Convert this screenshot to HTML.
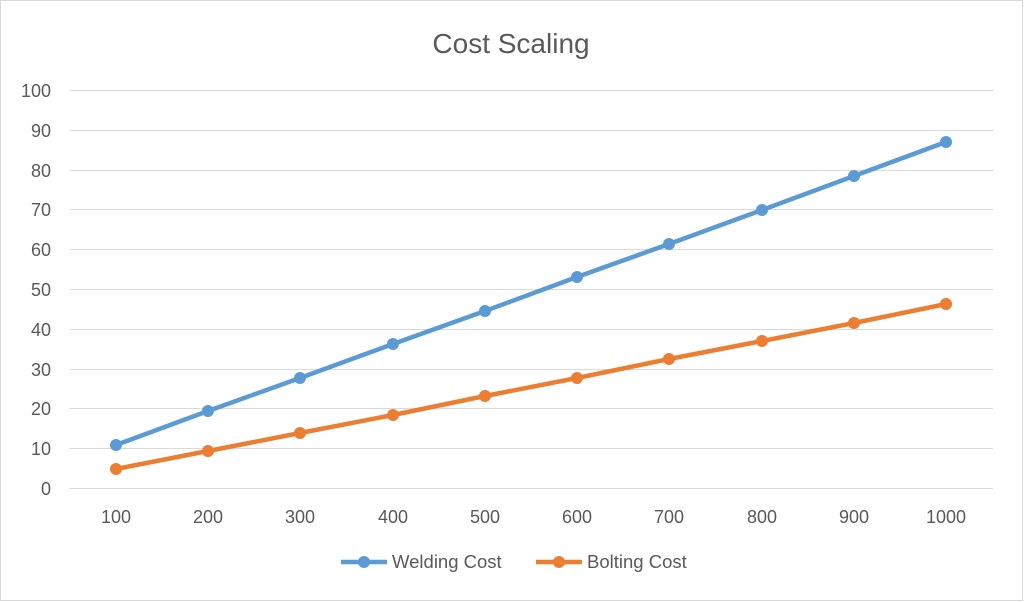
<!DOCTYPE html>
<html><head><meta charset="utf-8"><style>
html,body{margin:0;padding:0;background:#fff;}
svg{display:block;font-family:"Liberation Sans",Calibri,sans-serif;}
</style></head><body>
<svg width="1024" height="602" viewBox="0 0 1024 602">
<rect x="0.5" y="0.5" width="1022" height="600" fill="#fff" stroke="#d9d9d9"/>
<text x="511" y="53" text-anchor="middle" font-size="28" fill="#595959">Cost Scaling</text>
<g stroke="#d9d9d9" stroke-width="1">
<line x1="70" x2="993" y1="90.5" y2="90.5"/>
<line x1="70" x2="993" y1="130.5" y2="130.5"/>
<line x1="70" x2="993" y1="170.5" y2="170.5"/>
<line x1="70" x2="993" y1="209.5" y2="209.5"/>
<line x1="70" x2="993" y1="249.5" y2="249.5"/>
<line x1="70" x2="993" y1="289.5" y2="289.5"/>
<line x1="70" x2="993" y1="329.5" y2="329.5"/>
<line x1="70" x2="993" y1="369.5" y2="369.5"/>
<line x1="70" x2="993" y1="408.5" y2="408.5"/>
<line x1="70" x2="993" y1="448.5" y2="448.5"/>
<line x1="70" x2="993" y1="488.5" y2="488.5"/>
</g>
<g font-size="18" fill="#595959" text-anchor="end">
<text x="51" y="97">100</text><text x="51" y="137">90</text><text x="51" y="177">80</text>
<text x="51" y="216">70</text><text x="51" y="256">60</text><text x="51" y="296">50</text>
<text x="51" y="336">40</text><text x="51" y="376">30</text><text x="51" y="415">20</text>
<text x="51" y="455">10</text><text x="51" y="495">0</text>
</g>
<g font-size="18" fill="#595959" text-anchor="middle">
<text x="116" y="523">100</text><text x="208" y="523">200</text><text x="300" y="523">300</text>
<text x="393" y="523">400</text><text x="485" y="523">500</text><text x="577" y="523">600</text>
<text x="669" y="523">700</text><text x="762" y="523">800</text><text x="854" y="523">900</text>
<text x="946" y="523">1000</text>
</g>
<polyline fill="none" stroke="#5b9bd5" stroke-width="4.5" stroke-linejoin="round" points="116,445 208,411 300,378 393,344 485,311 577,277 669,244 762,210 854,176 946,142"/>
<g fill="#5b9bd5">
<circle cx="116" cy="445" r="6"/><circle cx="208" cy="411" r="6"/><circle cx="300" cy="378" r="6"/><circle cx="393" cy="344" r="6"/><circle cx="485" cy="311" r="6"/><circle cx="577" cy="277" r="6"/><circle cx="669" cy="244" r="6"/><circle cx="762" cy="210" r="6"/><circle cx="854" cy="176" r="6"/><circle cx="946" cy="142" r="6"/>
</g>
<polyline fill="none" stroke="#ed7d31" stroke-width="4.5" stroke-linejoin="round" points="116,469 208,451 300,433 393,415 485,396 577,378 669,359 762,341 854,323 946,304"/>
<g fill="#ed7d31">
<circle cx="116" cy="469" r="6"/><circle cx="208" cy="451" r="6"/><circle cx="300" cy="433" r="6"/><circle cx="393" cy="415" r="6"/><circle cx="485" cy="396" r="6"/><circle cx="577" cy="378" r="6"/><circle cx="669" cy="359" r="6"/><circle cx="762" cy="341" r="6"/><circle cx="854" cy="323" r="6"/><circle cx="946" cy="304" r="6"/>
</g>
<line x1="341" x2="387" y1="562" y2="562" stroke="#5b9bd5" stroke-width="4.5"/>
<circle cx="364" cy="562" r="6" fill="#5b9bd5"/>
<text x="392" y="568" font-size="18.5" fill="#595959">Welding Cost</text>
<line x1="536" x2="582" y1="562" y2="562" stroke="#ed7d31" stroke-width="4.5"/>
<circle cx="559" cy="562" r="6" fill="#ed7d31"/>
<text x="587" y="568" font-size="18.5" fill="#595959">Bolting Cost</text>
</svg>
</body></html>
